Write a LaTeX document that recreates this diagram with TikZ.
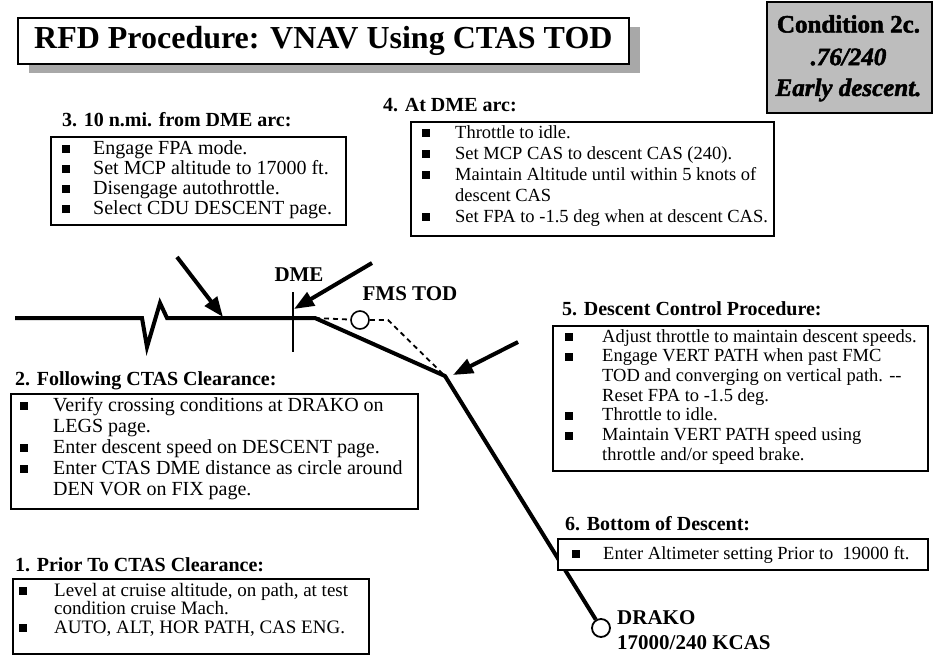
\documentclass[tikz,border=0pt]{standalone}
\usepackage{fontspec}
\setmainfont{Liberation Serif}
\newfontfamily\heavyfont{Liberation Serif}[BoldFeatures={FakeBold=2},BoldItalicFeatures={FakeBold=2}]
\usetikzlibrary{arrows.meta}
\newcommand{\sqbullet}{\rule[1pt]{8pt}{8pt}}
\definecolor{shadowgray}{gray}{0.66}
\definecolor{condgray}{gray}{0.74}

\tikzset{
  framebox/.style={draw, line width=1.7pt, rectangle, inner sep=0pt, anchor=north west},
  route/.style={line width=4pt, line join=miter},
  pointer/.style={line width=4pt, -{Triangle[length=20pt,width=15pt]}},
  fmsline/.style={line width=1.8pt, dash pattern=on 5pt off 4pt},
  headtxt/.style={font=\fontsize{20}{22}\selectfont\bfseries, anchor=west, inner sep=0pt},
  listtxt/.style={anchor=base west, inner sep=0pt, align=left},
  labeltxt/.style={font=\fontsize{21}{23}\selectfont\bfseries, inner sep=0pt},
  condtxt/.style={font=\fontsize{25}{27}\selectfont\heavyfont, inner sep=0pt},
  waypoint/.style={circle, draw, line width=1.8pt, fill=white, minimum size=18pt, inner sep=0pt},
}

\begin{document}
\begin{tikzpicture}[x=1pt,y=-1pt]
\useasboundingbox (0,0) rectangle (934,656);

% ---- title with its shadow
\fill[shadowgray] (29,27) rectangle (640,73);
\node[framebox, fill=white, minimum width=611pt, minimum height=46pt] (title) at (17,17) {};
\node[font=\fontsize{32}{34}\selectfont\bfseries, inner sep=0pt] (titletext) at (title.center) {RFD Procedure: VNAV Using CTAS TOD};

% ---- test condition tag
\node[framebox, fill=condgray, minimum width=165pt, minimum height=111pt] (cond) at (766,1) {};
\node[condtxt] (cond1) at (848.5,24) {\bfseries Condition 2c.};
\node[condtxt] (cond2) at (848.5,57) {\bfseries\itshape .76/240};
\node[condtxt] (cond3) at (848.5,90) {\bfseries\itshape Early descent.};

% ---- flight path (drawn first so the step-6 box sits over it)
\coordinate (start) at (15,318);
\coordinate (brk1) at (142,318);
\coordinate (brk2) at (147,347);
\coordinate (brk3) at (160,303);
\coordinate (brk4) at (167,318);
\coordinate (levelend) at (315,318);
\coordinate (corner) at (445,376);
\coordinate (fmsknee) at (388,320);
\node[waypoint] (drako) at (601,628) {};
\node[waypoint, line width=1.6pt] (fmstod) at (360,320) {};

\draw[fmsline] (levelend) -- (fmstod);
\draw[fmsline] (fmstod) -- (fmsknee) -- (corner);
\draw[route] (start) -- (brk1) -- (brk2) -- (brk3) -- (brk4) -- (levelend) -- (corner) -- (drako);

% DME arc crossing
\coordinate (dmetop) at (293,292);
\coordinate (dmebot) at (293,352);
\draw[line width=1.6pt] (dmetop) -- (dmebot);
\node[labeltxt] (dmelab) at (299,275) {DME};
\node[labeltxt] (fmslab) at (410,294) {FMS TOD};

% pointers to the procedure points
\coordinate (p3tail) at (177,257);
\coordinate (p3tip) at (223,317);
\coordinate (p4tail) at (372,263);
\coordinate (p4tip) at (294,309);
\coordinate (p5tail) at (518,342);
\coordinate (p5tip) at (453,375);
\draw[pointer] (p3tail) -- (p3tip);
\draw[pointer] (p4tail) -- (p4tip);
\draw[pointer] (p5tail) -- (p5tip);

% end fix
\node[labeltxt, anchor=west] (drakoname) at (617,618) {DRAKO};
\node[labeltxt, anchor=west] (drakoalt) at (617,643) {17000/240 KCAS};

% ---- 3. ten miles before the arc
\node[headtxt] (h3) at (62,120) {3. 10 n.mi. from DME arc:};
\node[framebox, minimum width=295pt, minimum height=88pt] (b3) at (50,136) {};
\node[listtxt, font=\fontsize{20}{20}\selectfont] (l3) at (62,154) {\begin{tabular}[t]{@{}p{31pt}@{}l@{}}
\sqbullet & Engage FPA mode.\\
\sqbullet & Set MCP altitude to 17000 ft.\\
\sqbullet & Disengage autothrottle.\\
\sqbullet & Select CDU DESCENT page.
\end{tabular}};

% ---- 4. at the arc
\node[headtxt] (h4) at (383,105) {4. At DME arc:};
\node[framebox, minimum width=363pt, minimum height=114pt] (b4) at (410,121) {};
\node[listtxt, font=\fontsize{18.5}{21}\selectfont] (l4) at (422,138) {\begin{tabular}[t]{@{}p{33pt}@{}l@{}}
\sqbullet & Throttle to idle.\\
\sqbullet & Set MCP CAS to descent CAS (240).\\
\sqbullet & Maintain Altitude until within 5 knots of\\
          & descent CAS\\
\sqbullet & Set FPA to -1.5 deg when at descent CAS.
\end{tabular}};

% ---- 2. after the clearance
\node[headtxt] (h2) at (15,381) {2. Following CTAS Clearance:};
\node[framebox, minimum width=407pt, minimum height=115pt] (b2) at (10,393) {};
\node[listtxt, font=\fontsize{20}{21}\selectfont] (l2) at (20,411) {\begin{tabular}[t]{@{}p{33pt}@{}l@{}}
\sqbullet & Verify crossing conditions at DRAKO on\\
          & LEGS page.\\
\sqbullet & Enter descent speed on DESCENT page.\\
\sqbullet & Enter CTAS DME distance as circle around\\
          & DEN VOR on FIX page.
\end{tabular}};

% ---- 1. before the clearance
\node[headtxt] (h1) at (15,565) {1. Prior To CTAS Clearance:};
\node[framebox, minimum width=356pt, minimum height=75pt] (b1) at (12,578) {};
\node[listtxt, font=\fontsize{19}{18.5}\selectfont] (l1) at (19,596) {\begin{tabular}[t]{@{}p{35pt}@{}l@{}}
\sqbullet & Level at cruise altitude, on path, at test\\
          & condition cruise Mach.\\
\sqbullet & AUTO, ALT, HOR PATH, CAS ENG.
\end{tabular}};

% ---- 5. descent control
\node[headtxt] (h5) at (562,309) {5. Descent Control Procedure:};
\node[framebox, minimum width=375pt, minimum height=145pt] (b5) at (552,325) {};
\node[listtxt, font=\fontsize{18.5}{19.7}\selectfont] (l5) at (565,342) {\begin{tabular}[t]{@{}p{37pt}@{}l@{}}
\sqbullet & Adjust throttle to maintain descent speeds.\\
\sqbullet & Engage VERT PATH when past FMC\\
          & TOD and converging on vertical path. -{}-\\
          & Reset FPA to -1.5 deg.\\
\sqbullet & Throttle to idle.\\
\sqbullet & Maintain VERT PATH speed using\\
          & throttle and/or speed brake.
\end{tabular}};

% ---- 6. bottom of descent
\node[headtxt] (h6) at (565,524) {6. Bottom of Descent:};
\node[framebox, fill=white, minimum width=370pt, minimum height=31pt] (b6) at (557,538) {};
\node[listtxt, font=\fontsize{18.5}{20}\selectfont] (l6) at (572,559) {\begin{tabular}[t]{@{}p{31pt}@{}l@{}}
\sqbullet & Enter Altimeter setting Prior to\ \ 19000 ft.
\end{tabular}};
\end{tikzpicture}
\end{document}
